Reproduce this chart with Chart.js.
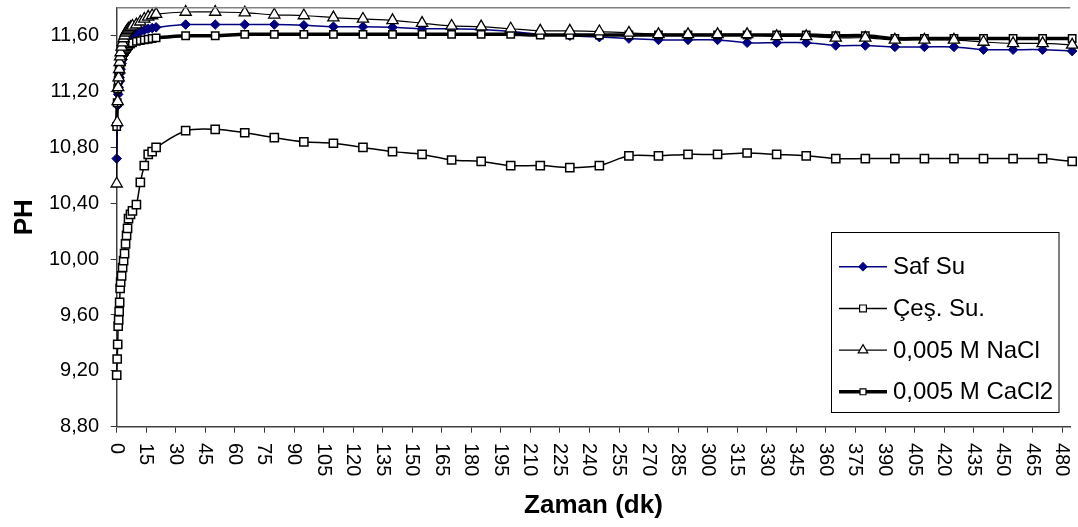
<!DOCTYPE html>
<html><head><meta charset="utf-8">
<script src="https://cdn.jsdelivr.net/npm/chart.js@4/dist/chart.umd.min.js"></script>
<style>html,body{margin:0;padding:0;background:#fff;overflow:hidden}#wrap{width:1078px;height:527px;position:relative}</style>
</head><body><div id="wrap"><canvas id="c" width="1078" height="527"></canvas></div>
<script>
// time (minutes)
const times = [0,0.25,0.5,0.75,1,1.25,1.5,1.75,2,2.5,3,3.5,4,4.5,5,5.5,6,7,8,10,12,14,16,18,20,
  35,50,65,80,95,110,125,140,155,170,185,200,215,230,245,260,275,290,305,320,335,350,365,380,395,410,425,440,455,470,485];
const safSu = [10.72,10.95,11.10,11.18,11.23,11.27,11.30,11.33,11.36,11.40,11.43,11.46,11.48,11.50,11.52,11.54,11.55,11.57,11.59,11.61,11.63,11.64,11.65,11.655,11.66,
  11.68,11.68,11.68,11.68,11.675,11.665,11.665,11.66,11.65,11.65,11.645,11.63,11.61,11.60,11.59,11.58,11.57,11.57,11.57,11.55,11.55,11.55,11.53,11.53,11.52,11.52,11.52,11.50,11.50,11.50,11.49];
const cesSu = [9.17,9.285,9.39,9.52,9.565,9.625,9.69,9.79,9.835,9.88,9.94,9.99,10.04,10.11,10.17,10.22,10.29,10.32,10.345,10.39,10.55,10.67,10.75,10.77,10.80,
  10.92,10.93,10.905,10.87,10.84,10.83,10.80,10.77,10.75,10.71,10.70,10.67,10.67,10.655,10.67,10.74,10.74,10.75,10.75,10.76,10.75,10.74,10.72,10.72,10.72,10.72,10.72,10.72,10.72,10.72,10.70];
const nacl = [10.54,10.98,11.13,11.23,11.30,11.36,11.41,11.45,11.48,11.52,11.55,11.58,11.60,11.62,11.63,11.64,11.65,11.66,11.67,11.68,11.70,11.72,11.735,11.745,11.755,
  11.77,11.77,11.765,11.75,11.745,11.73,11.72,11.71,11.69,11.67,11.665,11.65,11.635,11.635,11.63,11.62,11.61,11.61,11.61,11.61,11.595,11.595,11.585,11.585,11.57,11.57,11.57,11.555,11.545,11.545,11.535];
const cacl2 = [10.95,11.12,11.22,11.28,11.32,11.35,11.38,11.40,11.42,11.44,11.46,11.48,11.49,11.50,11.51,11.52,11.53,11.54,11.55,11.56,11.565,11.57,11.575,11.58,11.585,
  11.60,11.60,11.61,11.61,11.61,11.61,11.61,11.61,11.61,11.61,11.61,11.61,11.605,11.605,11.605,11.605,11.605,11.605,11.605,11.605,11.605,11.605,11.60,11.60,11.58,11.58,11.58,11.58,11.58,11.58,11.58];
const seriesNames = ['Saf Su','Çeş. Su.','0,005 M NaCl','0,005 M CaCl2'];
const xTicks = [0,15,30,45,60,75,90,105,120,135,150,165,180,195,210,225,240,255,270,285,300,315,330,345,360,375,390,405,420,435,450,465,480];
const yTicks = [8.8,9.2,9.6,10.0,10.4,10.8,11.2,11.6];

const FONT = "'Liberation Sans', Arial, sans-serif";
const pts = arr => arr.map((v,i)=>({x:times[i], y:v}));

const styles = [
  {color:'#000080', width:1.5, style:'rectRot', r:4.8, fill:'#000080', bw:1, order:3},
  {color:'#000000', width:1.5, style:'rect', r:5.8, fill:'#ffffff', bw:1.5, order:4},
  {color:'#000000', width:1.2, style:'triangle', r:6.5, fill:'#ffffff', bw:1.3, order:1},
  {color:'#000000', width:3.5, style:'rect', r:5.2, fill:'#ffffff', bw:1.5, order:2}
];
const seriesData = [safSu, cesSu, nacl, cacl2];

const datasets = seriesData.map((d,i)=>({
  label: seriesNames[i],
  data: pts(d),
  showLine: true,
  borderColor: styles[i].color,
  borderWidth: styles[i].width,
  pointStyle: styles[i].style,
  pointRadius: styles[i].r,
  pointBackgroundColor: styles[i].fill,
  pointBorderColor: styles[i].color,
  pointBorderWidth: styles[i].bw,
  tension: 0.3,
  clip: false,
  order: styles[i].order
}));

function drawMarker(ctx, style, x, y, r, fill, stroke, bw){
  ctx.save();
  ctx.beginPath();
  if (style==='rectRot'){ ctx.moveTo(x-r,y); ctx.lineTo(x,y-r); ctx.lineTo(x+r,y); ctx.lineTo(x,y+r); ctx.closePath(); }
  else if (style==='rect'){ const s=Math.SQRT1_2*r; ctx.rect(x-s,y-s,2*s,2*s); }
  else if (style==='triangle'){ ctx.moveTo(x, y-r); ctx.lineTo(x+r*0.866, y+r/2); ctx.lineTo(x-r*0.866, y+r/2); ctx.closePath(); }
  ctx.fillStyle=fill; ctx.fill();
  ctx.lineWidth=bw; ctx.strokeStyle=stroke; ctx.stroke();
  ctx.restore();
}

const extras = {
  id:'extras',
  afterDraw(chart){
    const ctx = chart.ctx, ca = chart.chartArea, xs = chart.scales.x;
    ctx.save();
    // top border
    ctx.strokeStyle='#808080'; ctx.lineWidth=1.5;
    ctx.beginPath(); ctx.moveTo(ca.left, ca.top); ctx.lineTo(ca.right, ca.top); ctx.stroke();
    // x tick labels rotated clockwise
    ctx.fillStyle='#000'; ctx.font = "20px " + FONT;
    ctx.textAlign='left'; ctx.textBaseline='middle';
    xTicks.forEach(v=>{
      const px = xs.getPixelForValue(v);
      ctx.save(); ctx.translate(px, 443); ctx.rotate(Math.PI/2);
      ctx.fillText(String(v), 0, 0.5); ctx.restore();
    });
    // legend
    const L = {x:831.5, y:232.5, w:227.5, h:180};
    ctx.fillStyle='#fff'; ctx.fillRect(L.x, L.y, L.w, L.h);
    ctx.strokeStyle='#000'; ctx.lineWidth=1; ctx.strokeRect(L.x, L.y, L.w, L.h);
    ctx.font = "24px " + FONT; ctx.textBaseline='middle';
    const legR = [4, 4.8, 5.5, 4.2];
    seriesNames.forEach((n,i)=>{
      const y = 266.7 + i*41.7;
      const st = styles[i];
      ctx.strokeStyle = st.color; ctx.lineWidth = st.width;
      ctx.beginPath(); ctx.moveTo(839, y); ctx.lineTo(887, y); ctx.stroke();
      drawMarker(ctx, st.style, 863, y, legR[i], st.fill, st.color, 1.2);
      ctx.fillStyle='#000'; ctx.textAlign='left';
      ctx.fillText(n, 893, y+1);
    });
    ctx.restore();
  }
};

new Chart(document.getElementById('c'), {
  type:'scatter',
  data:{datasets},
  options:{
    responsive:false, animation:false, devicePixelRatio:1,
    layout:{padding:{top:6.7, right:0, bottom:0, left:0}},
    plugins:{legend:{display:false}, tooltip:{enabled:false}},
    scales:{
      x:{type:'linear', min:0, max:484,
        afterBuildTicks:s=>{ s.ticks = xTicks.map(v=>({value:v})); },
        afterFit:s=>{ s.height = 100.3; s.paddingLeft = 0; s.paddingRight = 0; },
        ticks:{display:false},
        grid:{display:true, drawOnChartArea:false, drawTicks:true, tickLength:6, color:'#333', lineWidth:1},
        border:{display:true, color:'#404040', width:1.5},
        title:{display:true, text:'Zaman (dk)', color:'#000', font:{family:FONT, size:26, weight:'bold'}, padding:{top:0, bottom:6}}
      },
      y:{type:'linear', min:8.8, max:11.8,
        afterBuildTicks:s=>{ s.ticks = yTicks.map(v=>({value:v})); },
        afterFit:s=>{ s.width = 116.7; s.paddingTop = 0; s.paddingBottom = 0; },
        ticks:{color:'#000', padding:11.7, font:{family:FONT, size:20}, callback:v=>v.toFixed(2).replace('.',',')},
        grid:{display:true, drawOnChartArea:false, drawTicks:true, tickLength:6, color:'#333', lineWidth:1},
        border:{display:true, color:'#404040', width:1.5},
        title:{display:true, text:'PH', color:'#000', font:{family:FONT, size:26, weight:'bold'}, padding:{top:9, bottom:0}}
      }
    }
  },
  plugins:[extras]
});
</script></body></html>
